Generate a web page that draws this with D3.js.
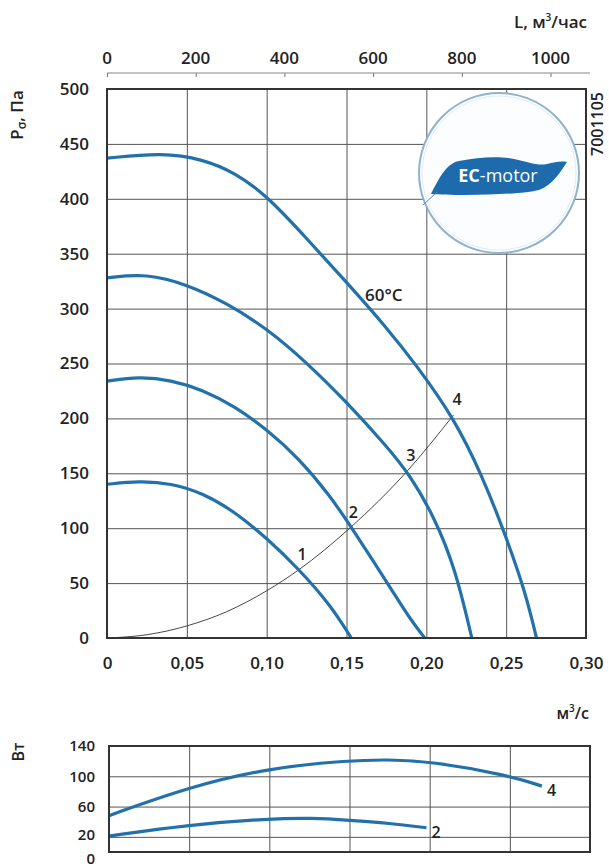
<!DOCTYPE html>
<html>
  <head>
    <title>fan curve</title>
    <meta charset="UTF-8" />
    <script src="https://d3js.org/d3.v7.min.js"></script>
    <style>
        body { margin: 0; background: #fff; }
        text { font-family: "Open Sans", sans-serif; font-weight: 600; fill: #222; }
        .curve { fill: none; stroke: #2271ab; stroke-width: 3.2; }
        .grid line { stroke: #555; stroke-width: 1; }
        .grid path { display: none; }
    </style>
  </head>
  <body>
    <script>
        // pressure curves, Q in m3/s, P in Pa
        var curve1 = [[0,140],[0.02,143],[0.04,141],[0.06,132],[0.08,115],[0.10,91],[0.12,63],[0.14,30],[0.153,0]];
        var curve2 = [[0,234],[0.02,238],[0.04,235],[0.06,226],[0.08,211],[0.10,190],[0.12,164],[0.14,129],[0.152,103],[0.165,74],[0.18,40],[0.19,17],[0.199,0]];
        var curve3 = [[0,328],[0.025,332],[0.05,322],[0.075,305],[0.10,282],[0.125,251],[0.15,215],[0.175,175],[0.19,148],[0.205,110],[0.218,64],[0.2285,0]];
        var curve4 = [[0,437],[0.035,442],[0.06,436],[0.08,424],[0.10,403],[0.125,364],[0.15,324],[0.175,283],[0.194,248],[0.217,201],[0.235,148],[0.25,92],[0.262,42],[0.269,0]];
        var pressureCurves = [curve1, curve2, curve3, curve4];
        // system line
        var systemLine = [[0,0],[0.025,3],[0.05,11],[0.075,24],[0.10,43],[0.12,62],[0.152,100],[0.188,152],[0.217,203]];
        var pointNames = ["1","2","3","4"];
        var pointQ = [0.12, 0.152, 0.188, 0.217];
        var pointP = [62, 100, 152, 203];

        // power curves, W
        var power2 = [[0,21],[0.05,36],[0.10,44],[0.126,45],[0.15,42],[0.175,38],[0.198,32]];
        var power4 = [[0,48],[0.05,86],[0.10,111],[0.15,121],[0.174,122],[0.20,120],[0.25,101],[0.27,87]];
        var powerNames = ["2","4"];

        var xTicks = [0,0.05,0.10,0.15,0.20,0.25,0.30];
        var xTickLabels = ["0","0,05","0,10","0,15","0,20","0,25","0,30"];
        var yTicks = [0,50,100,150,200,250,300,350,400,450,500];
        var topTicks = [0,200,400,600,800,1000];
        var powerTicks = [0,20,60,100,140];
        var powerGrid = [20,60,100];

        var fs = "17px";

        var svg = d3.select("body").append("svg")
            .attr("width", 609)
            .attr("height", 867);

        var x = d3.scaleLinear().domain([0,0.3]).range([107,586]);
        var y = d3.scaleLinear().domain([0,500]).range([638,89]);
        var xTop = d3.scaleLinear().domain([0,0.3*3600]).range([107,586]);
        var xb = d3.scaleLinear().domain([0,0.3]).range([109,590]);
        var yb = d3.scaleLinear().domain([0,140]).range([852,746]);

        var line = d3.line().x(d => x(d[0])).y(d => y(d[1])).curve(d3.curveBasis);
        var lineSys = d3.line().x(d => x(d[0])).y(d => y(d[1])).curve(d3.curveMonotoneX);
        var lineB = d3.line().x(d => xb(d[0])).y(d => yb(d[1])).curve(d3.curveBasis);

        // ---- main panel grid
        svg.append("g").attr("class","grid")
            .attr("transform","translate(0,638)")
            .call(d3.axisBottom(x).tickValues(xTicks).tickSize(-549).tickFormat(""));
        svg.append("g").attr("class","grid")
            .attr("transform","translate(107,0)")
            .call(d3.axisLeft(y).tickValues(yTicks).tickSize(-479).tickFormat(""));

        // logo
        var cx = 499, cy = 173;
        var logo = svg.append("g").attr("transform","translate(" + cx + "," + cy + ")");
        logo.append("circle").attr("r", 80).attr("fill","#fbfdfe").attr("stroke","#8fb2cf").attr("stroke-width",2);
        logo.append("circle").attr("r", 77).attr("fill","none").attr("stroke","#e2ecf4").attr("stroke-width",1);
        logo.append("path")
            .attr("d","M -68,21 C -60,5 -52,-10 -40,-12 C -20,-16 0,-17 15,-14 C 30,-11 38,-7 48,-9 C 56,-11 62,-12 68,-11 C 62,-2 54,12 40,17 C 20,22 -40,23 -68,21 Z")
            .attr("fill","#1d6aad");
        logo.append("path").attr("d","M -76,32 L -62,19").attr("stroke","#5a85a8").attr("stroke-width",1).attr("fill","none");
        var lt = logo.append("text").attr("x",-1).attr("y",9).attr("text-anchor","middle")
            .style("font-size","18px").style("fill","#fff").style("font-weight","400");
        lt.append("tspan").text("EC").style("font-weight","700").style("fill","#fff");
        lt.append("tspan").text("-motor").style("fill","#fff");

        // curves
        svg.append("path").datum(systemLine).attr("d", lineSys)
            .attr("fill","none").attr("stroke","#333").attr("stroke-width",0.9);
        svg.selectAll(".pc").data(pressureCurves).enter().append("path")
            .attr("class","curve").attr("d", line);

        // main frame
        svg.append("rect").attr("x",107).attr("y",89).attr("width",479).attr("height",549)
            .attr("fill","none").attr("stroke","#333").attr("stroke-width",2);

        // point labels
        svg.selectAll(".pl").data(pointNames).enter().append("text")
            .attr("x", (d,i) => x(pointQ[i]) - 1)
            .attr("y", (d,i) => y(pointP[i]) - 10)
            .style("font-size","16px").text(d => d);

        svg.append("text").attr("x",x(0.1616)).attr("y",y(307)).style("font-size","17px").text("60°C");

        // y axis labels
        var ya = svg.append("g").attr("transform","translate(89,0)")
            .call(d3.axisLeft(y).tickValues(yTicks).tickSize(0).tickPadding(0));
        ya.select(".domain").remove();
        ya.selectAll("text").style("font-size",fs).style("font-family","'Open Sans', sans-serif").style("font-weight","600").attr("fill","#222");

        // bottom x labels
        var xa = svg.append("g").attr("transform","translate(0,657)")
            .call(d3.axisBottom(x).tickValues(xTicks).tickSize(0).tickPadding(0).tickFormat((d,i) => xTickLabels[i]));
        xa.select(".domain").remove();
        xa.selectAll("text").style("font-size",fs).style("font-family","'Open Sans', sans-serif").style("font-weight","600").attr("fill","#222");

        // top axis
        var ta = svg.append("g").attr("transform","translate(0,73)")
            .call(d3.axisBottom(xTop).tickValues(topTicks).tickSize(4).tickFormat(""));
        ta.select(".domain").remove();
        ta.selectAll("line").attr("stroke","#777");
        svg.append("line").attr("x1",107).attr("x2",590).attr("y1",73).attr("y2",73).attr("stroke","#888").attr("stroke-width",1.2);
        svg.selectAll(".tl").data(topTicks).enter().append("text")
            .attr("x", d => xTop(d)).attr("y", 64).attr("text-anchor","middle")
            .style("font-size",fs).text(d => d);
        var lt2 = svg.append("text").attr("x",587).attr("y",28).attr("text-anchor","end").style("font-size",fs);
        lt2.append("tspan").text("L, м");
        lt2.append("tspan").text("3").attr("dy",-7).style("font-size","10px");
        lt2.append("tspan").text("/час").attr("dy",7);

        var pl = svg.append("text").attr("transform","translate(23,115) rotate(-90)").attr("text-anchor","middle").style("font-size",fs);
        pl.append("tspan").text("P");
        pl.append("tspan").text("σ").attr("dy",3).style("font-size","12px");
        pl.append("tspan").text(", Па").attr("dy",-3);

        svg.append("text").attr("transform","translate(603,124) rotate(-90)").attr("text-anchor","middle")
            .style("font-size","16px").text("7001105");

        var ul = svg.append("text").attr("x",589).attr("y",719).attr("text-anchor","end").style("font-size","16px");
        ul.append("tspan").text("м");
        ul.append("tspan").text("3").attr("dy",-7).style("font-size","10px");
        ul.append("tspan").text("/с").attr("dy",7);

        // ---- power panel
        svg.append("g").attr("class","grid")
            .attr("transform","translate(0,852)")
            .call(d3.axisBottom(xb).tickValues(xTicks).tickSize(-106).tickFormat(""));
        svg.append("g").attr("class","grid")
            .attr("transform","translate(109,0)")
            .call(d3.axisLeft(yb).tickValues(powerGrid).tickSize(-481).tickFormat(""));
        svg.selectAll(".pw").data([power2, power4]).enter().append("path")
            .attr("class","curve").attr("d", lineB);
        svg.append("rect").attr("x",109).attr("y",746).attr("width",481).attr("height",106)
            .attr("fill","none").attr("stroke","#333").attr("stroke-width",2);
        svg.selectAll(".pwl").data([power2, power4]).enter().append("text")
            .attr("x", d => xb(d[d.length-1][0]) + 5)
            .attr("y", d => yb(d[d.length-1][1]) + 10)
            .style("font-size","16px").text((d,i) => powerNames[i]);

        var yba = svg.append("g").attr("transform","translate(95,0)")
            .call(d3.axisLeft(yb).tickValues(powerTicks).tickSize(0).tickPadding(0));
        yba.select(".domain").remove();
        yba.selectAll("text").style("font-size","15px").style("font-family","'Open Sans', sans-serif").style("font-weight","600").attr("fill","#222")
            .attr("dy", d => d === 0 ? "0.75em" : (d === 20 ? "0.15em" : "0.32em"));

        svg.append("text").attr("transform","translate(24,752) rotate(-90)").attr("text-anchor","middle")
            .style("font-size","16px").text("Вт");
    </script>
  </body>
</html>
